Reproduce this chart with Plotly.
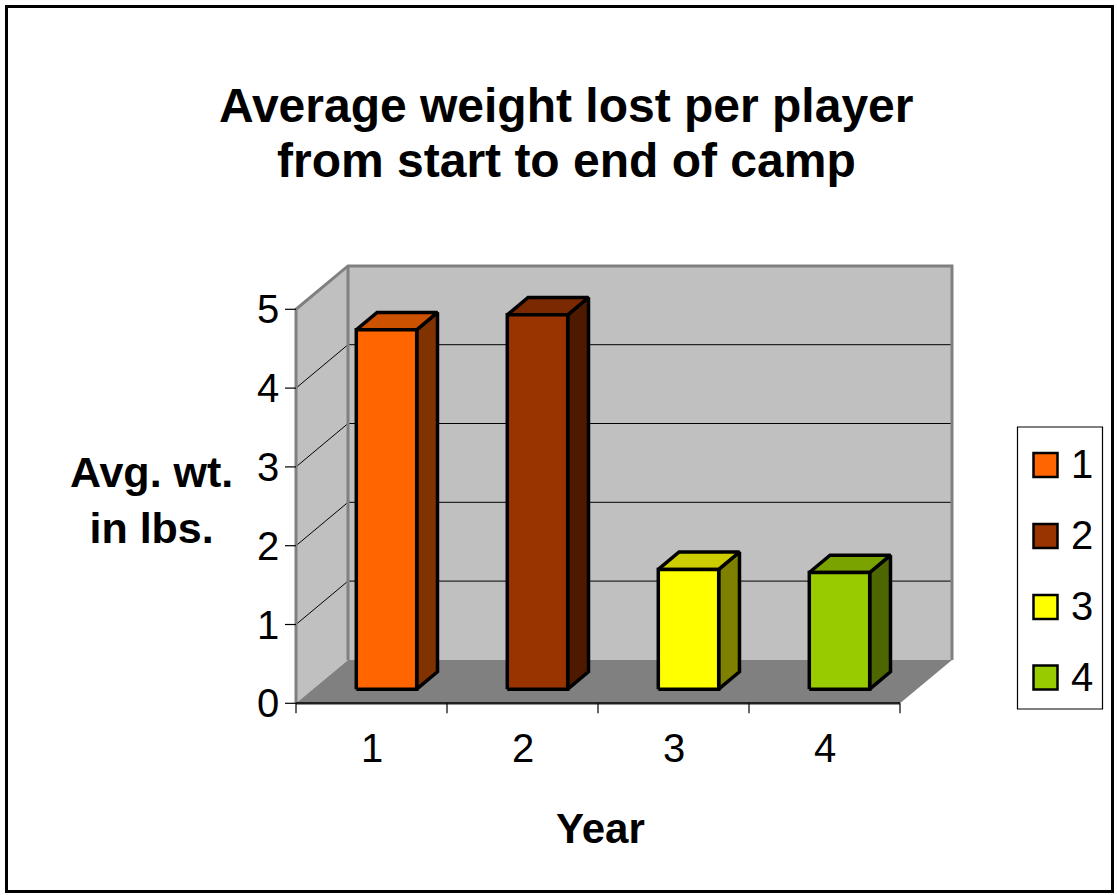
import plotly.graph_objects as go

# ---------------- data ----------------
categories = ["1", "2", "3", "4"]
values = [4.56, 4.75, 1.52, 1.48]
y_ticks = [0, 1, 2, 3, 4, 5]
legend_labels = ["1", "2", "3", "4"]
title_lines = ["Average weight lost per player", "from start to end of camp"]

# ---------------- style ----------------
front_colors = ["#FF6600", "#993300", "#FFFF00", "#99CC00"]
top_colors = ["#CC5200", "#7A2900", "#CCCC00", "#7AA300"]
side_colors = ["#803300", "#4D1A00", "#808000", "#4D6600"]

W, H = 1117, 895
SX, SY = 151.0, 78.8          # px per category unit / value unit
X0PX, Y0PX = 296.0, 703.3     # pixel of (x=0.5, y=0) on front plane
DX = 52.0 / SX                # depth offset in category units
DY = 43.4 / SY                # depth offset in value units
XR = [0.2, 5.0]
YR = [-0.3, 5.9]
FONT = "Liberation Sans, Arial, sans-serif"

def xpix(x):
    return X0PX + (x - 0.5) * SX

def ypix(y):
    return Y0PX - y * SY

xdom = [xpix(XR[0]) / W, xpix(XR[1]) / W]
ydom = [1 - ypix(YR[0]) / H, 1 - ypix(YR[1]) / H]

def P(x, y, d):
    return (x + d * DX, y + d * DY)

fig = go.Figure()

def poly(pts, fill, line_color=None, width=0):
    xs = [p[0] for p in pts] + [pts[0][0]]
    ys = [p[1] for p in pts] + [pts[0][1]]
    fig.add_trace(go.Scatter(
        x=xs, y=ys, mode="lines", fill="toself", fillcolor=fill,
        line=dict(color=line_color if line_color else fill, width=width),
        hoverinfo="skip", showlegend=False))

def path(pts, color, width):
    fig.add_trace(go.Scatter(
        x=[p[0] for p in pts], y=[p[1] for p in pts], mode="lines",
        line=dict(color=color, width=width), hoverinfo="skip", showlegend=False))

xa, xb = 0.5, 0.5 + len(categories)
ymax = max(y_ticks)

# back wall, left wall, floor
poly([P(xa, 0, 1), P(xb, 0, 1), P(xb, ymax, 1), P(xa, ymax, 1)], "#C0C0C0")
poly([P(xa, 0, 0), P(xa, 0, 1), P(xa, ymax, 1), P(xa, ymax, 0)], "#C0C0C0")
poly([P(xa, 0, 0), P(xb, 0, 0), P(xb, 0, 1), P(xa, 0, 1)], "#808080")

# gridlines
for v in y_ticks[1:-1]:
    path([P(xa, v, 0), P(xa, v, 1), P(xb, v, 1)], "#000000", 1)

# wall borders
path([P(xa, 0, 0), P(xa, ymax, 0), P(xa, ymax, 1), P(xb, ymax, 1), P(xb, 0, 1)], "#808080", 3)
path([P(xa, 0, 1), P(xa, ymax, 1)], "#808080", 3)

# bars
bl, br = 0.287, 0.687
d0, d1 = 0.326, 0.726
for i, v in enumerate(values):
    c = i + 1
    x0, x1 = c - 0.5 + bl, c - 0.5 + br
    poly([P(x1, 0, d0), P(x1, 0, d1), P(x1, v, d1), P(x1, v, d0)], side_colors[i], "#000000", 3.5)
    poly([P(x0, v, d0), P(x1, v, d0), P(x1, v, d1), P(x0, v, d1)], top_colors[i], "#000000", 3.5)
    poly([P(x0, 0, d0), P(x1, 0, d0), P(x1, v, d0), P(x0, v, d0)], front_colors[i], "#000000", 3.5)

# front axis line + ticks
path([P(xa, 0, 0), P(xb, 0, 0)], "#202020", 2.5)
for k in range(len(categories) + 1):
    xt = xa + k
    path([(xt, 0), (xt, -10 / SY)], "#000000", 1.2)
for v in y_ticks:
    path([(xa, v), (xa - 11 / SX, v)], "#000000", 1.2)

annotations = []
for v in y_ticks:
    annotations.append(dict(x=xa, y=v, xref="x", yref="y", text=str(v), showarrow=False,
                            xanchor="right", yanchor="middle", xshift=-15, yshift=0,
                            font=dict(family=FONT, size=40, color="#000000")))
for i, c in enumerate(categories):
    annotations.append(dict(x=i + 1, y=0, xref="x", yref="y", text=c, showarrow=False,
                            xanchor="center", yanchor="middle", yshift=-45,
                            font=dict(family=FONT, size=40, color="#000000")))

# titles
for k, (line, yc) in enumerate(zip(title_lines, [106, 160])):
    annotations.append(dict(x=566 / W, y=1 - yc / H, xref="paper", yref="paper",
                            text="<b>" + line + "</b>",
                            showarrow=False, xanchor="center", yanchor="middle",
                            font=dict(family=FONT, size=48, color="#000000")))
annotations.append(dict(x=152 / W, y=1 - 500 / H, xref="paper", yref="paper",
                        text="<b>Avg. wt.<br>in lbs.</b>", showarrow=False,
                        xanchor="center", yanchor="middle",
                        font=dict(family=FONT, size=43, color="#000000")))
annotations.append(dict(x=600 / W, y=1 - 828 / H, xref="paper", yref="paper",
                        text="<b>Year</b>", showarrow=False, xanchor="center", yanchor="middle",
                        font=dict(family=FONT, size=42, color="#000000")))

shapes = []
# outer border
shapes.append(dict(type="rect", xref="paper", yref="paper",
                   x0=6.5 / W, x1=1 - 4.5 / W, y0=3.5 / H, y1=1 - 6.5 / H,
                   line=dict(color="#000000", width=3)))
# legend box
shapes.append(dict(type="rect", xref="paper", yref="paper",
                   x0=1017.5 / W, x1=1102.5 / W, y0=1 - 709 / H, y1=1 - 427 / H,
                   line=dict(color="#000000", width=1.2), fillcolor="#FFFFFF"))
leg_y = [465, 536, 607, 677.5]
for i, lab in enumerate(legend_labels):
    cy = leg_y[i]
    shapes.append(dict(type="rect", xref="paper", yref="paper",
                       x0=1033.5 / W, x1=1057.5 / W, y0=1 - (cy + 12) / H, y1=1 - (cy - 12) / H,
                       line=dict(color="#000000", width=2.5), fillcolor=front_colors[i]))
    annotations.append(dict(x=1069 / W, y=1 - cy / H, xref="paper", yref="paper",
                            text=lab, showarrow=False, xanchor="left", yanchor="middle",
                            yshift=1, font=dict(family=FONT, size=40, color="#000000")))

fig.update_layout(
    width=W, height=H, autosize=False,
    margin=dict(l=0, r=0, t=0, b=0, pad=0),
    paper_bgcolor="#FFFFFF", plot_bgcolor="rgba(0,0,0,0)",
    xaxis=dict(domain=xdom, range=XR, visible=False, fixedrange=True),
    yaxis=dict(domain=ydom, range=YR, visible=False, fixedrange=True),
    showlegend=False, shapes=shapes, annotations=annotations,
    hovermode=False,
)

fig.write_html("out.html")
